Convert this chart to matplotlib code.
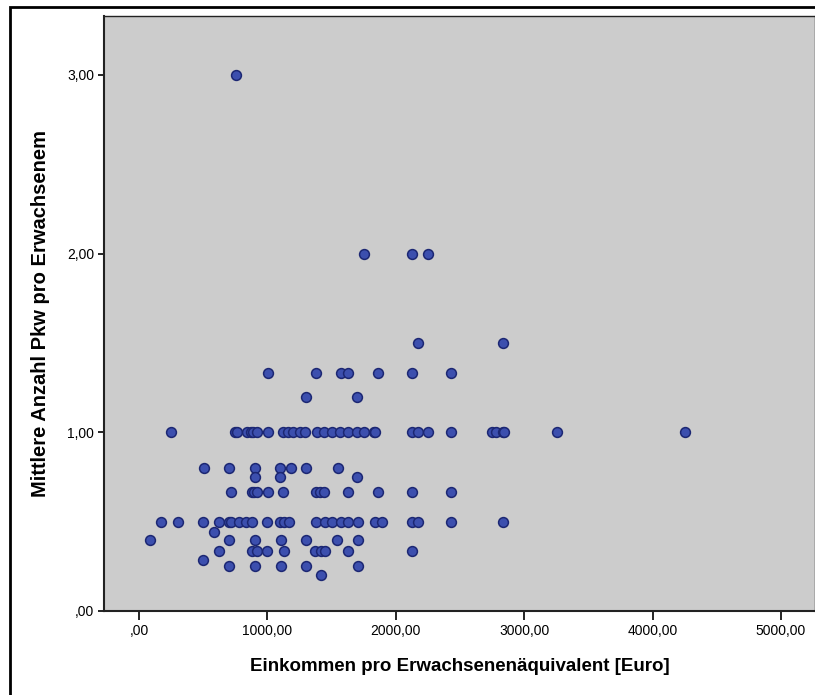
import matplotlib
matplotlib.use("Agg")
import matplotlib.pyplot as plt
from matplotlib.patches import Rectangle

plt.rcParams['font.family'] = ['Liberation Sans', 'DejaVu Sans']

y_300 = [755]
y_200 = [1752, 2129, 2253]
y_150 = [2170, 2837]
y_133 = [1002, 1379, 1571, 1628, 1859, 2129, 2430]
y_120 = [1303, 1700]
y_100 = [249, 748, 765, 839, 870, 890, 917, 1007, 1124, 1163, 1200, 1254,
         1293, 1383, 1441, 1501, 1565, 1630, 1695, 1752, 1830, 1840, 2129,
         2170, 2253, 2430, 2751, 2780, 2837, 2845, 3253, 4252]
y_080 = [504, 703, 901, 1100, 1184, 1303, 1547]
y_075 = [901, 1100, 1700]
y_067 = [716, 877, 898, 919, 1002, 1124, 1379, 1410, 1441, 1628, 1859,
         2129, 2430]
y_050 = [169, 301, 501, 626, 701, 717, 781, 833, 880, 999, 1098, 1129,
         1171, 1376, 1449, 1503, 1576, 1628, 1703, 1836, 1890, 2129, 2170,
         2430, 2837]
y_044 = [582]
y_040 = [86, 701, 901, 1103, 1301, 1545, 1703]
y_033 = [626, 877, 919, 999, 1127, 1371, 1415, 1449, 1628, 2126]
y_029 = [501]
y_025 = [701, 901, 1103, 1301, 1703]
y_020 = [1415]

rows = [(y_300, 3.0), (y_200, 2.0), (y_150, 1.5), (y_133, 4 / 3),
        (y_120, 1.2), (y_100, 1.0), (y_080, 0.8), (y_075, 0.75),
        (y_067, 2 / 3), (y_050, 0.5), (y_044, 4 / 9), (y_040, 0.4),
        (y_033, 1 / 3), (y_029, 2 / 7), (y_025, 0.25), (y_020, 0.2)]

xticks = [0, 1000, 2000, 3000, 4000, 5000]
xtick_labels = [',00', '1000,00', '2000,00', '3000,00', '4000,00', '5000,00']
yticks = [0, 1, 2, 3]
ytick_labels = [',00', '1,00', '2,00', '3,00']

fig = plt.figure(figsize=(8.15, 6.95), dpi=100)
ax = fig.add_axes([104 / 815, 1 - 611 / 695, 1 - 104 / 815, (611 - 16) / 695])
ax.set_facecolor('#cccccc')

xs, ys = [], []
for xv, yv in rows:
    xs.extend(xv)
    ys.extend([yv] * len(xv))
ax.scatter(xs, ys, s=50, c='#3c4fae', edgecolors='#1c2773', linewidths=1.1,
           zorder=3, clip_on=False)

ax.set_xlim(-273, 5265)
ax.set_ylim(0, 3.33)
ax.set_xticks(xticks)
ax.set_xticklabels(xtick_labels)
ax.set_yticks(yticks)
ax.set_yticklabels(ytick_labels)
ax.tick_params(axis='both', direction='out', width=1.2,
               labelsize=10, color='black', pad=3)
ax.tick_params(axis='x', length=6.5)
ax.tick_params(axis='y', length=4)

for side in ['left', 'bottom', 'top', 'right']:
    ax.spines[side].set_color('#222222')
    ax.spines[side].set_linewidth(1)
ax.spines['bottom'].set_linewidth(1.5)
ax.spines['left'].set_linewidth(1.5)

ax.set_xlabel('Einkommen pro Erwachsenenäquivalent [Euro]', fontsize=13.5,
              fontweight='bold', labelpad=14)
ax.set_ylabel('Mittlere Anzahl Pkw pro Erwachsenem', fontsize=14.5,
              fontweight='bold', labelpad=12)

# äußerer Rahmen (rechts und unten abgeschnitten)
fig.patches.append(Rectangle((10 / 815, -0.2), 1.2, 1.2 - 7 / 695,
                             transform=fig.transFigure, fill=False,
                             edgecolor='black', linewidth=2))

fig.savefig('out.png', dpi=100)
